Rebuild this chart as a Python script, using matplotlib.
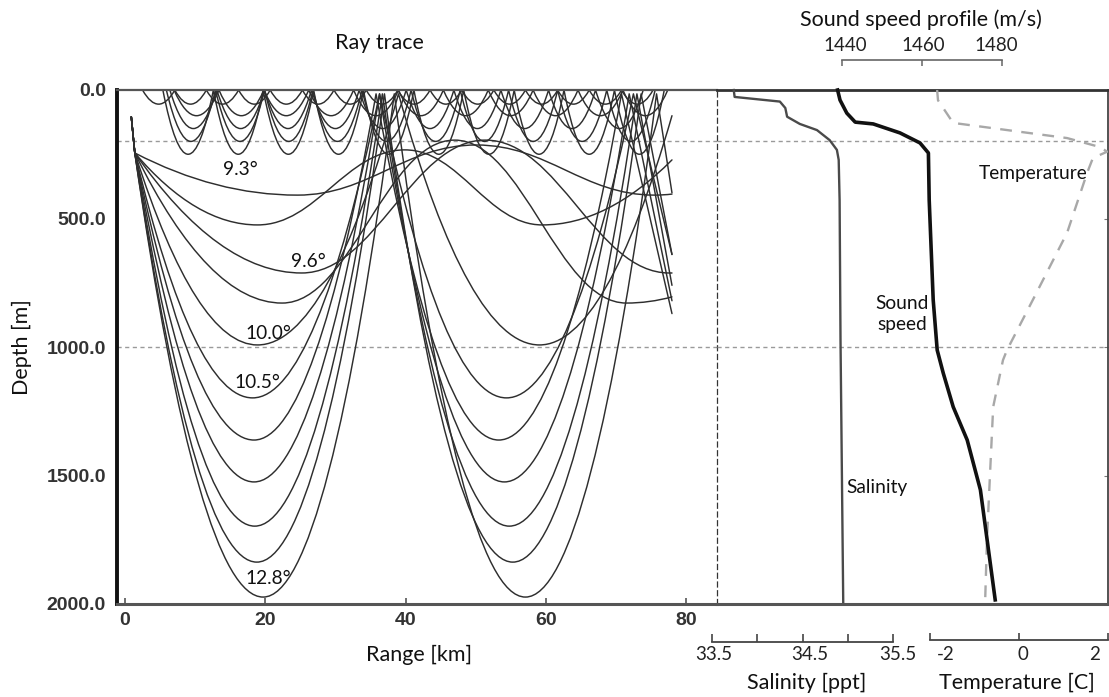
import matplotlib
matplotlib.use("Agg")
import matplotlib.pyplot as plt
from matplotlib.path import Path
from matplotlib.patches import PathPatch
from matplotlib.transforms import ScaledTranslation

plt.rcParams['font.family'] = ['Lato', 'DejaVu Sans']

# ---------------- data ----------------
range_ticks = [0, 20, 40, 60, 80]
depth_ticks = [0, 500, 1000, 1500, 2000]
sal_ticks = [33.5, 34.0, 34.5, 35.0, 35.5]
sal_ticklabels = ["33.5", "", "34.5", "", "35.5"]
temp_ticks = [-2, 0, 2]
ss_ticks = [1440, 1460, 1480]
ref_depths = [200, 1000]

sal_depth = [0, 27, 45, 70, 104, 132, 156, 195, 233, 272, 428, 973, 1992]
sal_value = [33.74, 33.75, 34.25, 34.31, 34.33, 34.47, 34.66, 34.80, 34.88, 34.90, 34.91, 34.92, 34.95]

ss_depth = [0, 39, 90, 125, 132, 167, 206, 245, 428, 817, 1012, 1101, 1233, 1362, 1556, 1984]
ss_value = [1438.9, 1439.5, 1441.2, 1443.3, 1447.8, 1454.5, 1459.5, 1461.6, 1461.8,
            1462.8, 1463.8, 1465.3, 1467.8, 1471.3, 1474.6, 1478.3]

temp_depth = [0, 40, 128, 187, 222, 240, 265, 323, 556, 817, 1012, 1051, 1233, 1490, 1751, 1984]
temp_value = [-1.84, -1.82, -1.48, 1.08, 1.82, 1.98, 1.66, 1.53, 1.08, 0.31, -0.27, -0.36,
              -0.58, -0.65, -0.72, -0.76]

# ray trace key points (range in km, depth in m)
source_range = [0.9, 1.4]
source_depth = [105, 245]
surface_bounce_depth = 15
trace_end_range = 78.0

deep_bottom = [992, 1198, 1362, 1525, 1697, 1837, 1973]
deep_b1_range = [18.9, 18.2, 18.4, 18.4, 18.5, 18.8, 19.7]
deep_top1_range = [39.0, 36.3, 35.8, 36.3, 36.7, 37.0, 38.4]
deep_b2_range = [59.1, 54.4, 53.3, 54.1, 54.8, 55.3, 57.1]
deep_top2_range = [79.2, 72.5, 70.8, 71.9, 73.0, 73.6, 75.8]
deep_end_depth = [100, 640, 870, 820, 760, 640, 400]

shallow_bottom = [409, 525, 712, 829]
shallow_b1_range = [24.6, 18.9, 25.2, 22.4]
shallow_top_range = [50.1, 39.9, 51.4, 47.0]
shallow_top_depth = [214, 233, 195, 195]
shallow_b2_range = [75.5, 59.5, 77.6, 71.5]
shallow_end_depth = [405, 272, 712, 805]

duct_bottom = [250, 200, 150, 100, 55]
duct1_cusps = [5.4, 12.6, 19.7, 26.9, 34.0, 41.2, 48.3, 55.5, 62.6, 69.8, 76.9]
duct2_cusps = [5.9, 12.9, 19.9, 26.8, 33.8, 40.8, 47.8, 54.7, 61.7, 68.7, 75.6]
duct3_cusps = [6.4, 13.1, 19.9, 26.6, 33.4, 40.1, 46.9, 53.6, 60.4, 67.1, 73.9]
duct4_cusps = [7.0, 13.4, 19.8, 26.2, 32.6, 39.0, 45.4, 51.8, 58.2, 64.6, 71.0, 77.4]
duct5_cusps = [2.5, 7.1, 11.6, 16.2, 20.7, 25.3, 29.8, 34.4, 38.9, 43.5, 48.0, 52.6,
               57.1, 61.7, 66.2, 70.8, 75.3]

angle_labels = ["9.3°", "9.6°", "10.0°", "10.5°", "12.8°"]
angle_label_range = [16.4, 26.1, 20.4, 18.9, 20.4]
angle_label_depth = [311, 669, 946, 1140, 1899]

# ---------------- layout helpers ----------------
W, H = 1109, 697
fig = plt.figure(figsize=(W / 100, H / 100), dpi=100)


def box(x0, x1, y0, y1):
    return [x0 / W, 1 - y1 / H, (x1 - x0) / W, (y1 - y0) / H]


def shift_labels(labels, offsets_px):
    for lab, off in zip(labels, offsets_px):
        lab.set_transform(lab.get_transform() + ScaledTranslation(off / 100, 0, fig.dpi_scale_trans))


def ray_path(xs, ys, kinds):
    verts = [(xs[0], ys[0])]
    codes = [Path.MOVETO]
    for i in range(len(xs) - 1):
        xa, ya, xb, yb = xs[i], ys[i], xs[i + 1], ys[i + 1]
        ka, kb = kinds[i], kinds[i + 1]
        dx = xb - xa
        if ka == 'v' and kb == 'v':
            c1 = (xa + 0.4 * dx, ya)
            c2 = (xb - 0.4 * dx, yb)
        elif ka == 'c' and kb == 'v':
            q = (xa + 0.5 * dx, yb)
            c1 = (xa + 2 / 3 * (q[0] - xa), ya + 2 / 3 * (q[1] - ya))
            c2 = (xb + 2 / 3 * (q[0] - xb), yb + 2 / 3 * (q[1] - yb))
        elif ka == 'v' and kb == 'c':
            q = (xa + 0.5 * dx, ya)
            c1 = (xa + 2 / 3 * (q[0] - xa), ya + 2 / 3 * (q[1] - ya))
            c2 = (xb + 2 / 3 * (q[0] - xb), yb + 2 / 3 * (q[1] - yb))
        else:
            c1 = (xa + dx / 3, ya + (yb - ya) / 3)
            c2 = (xa + 2 * dx / 3, ya + 2 * (yb - ya) / 3)
        verts += [c1, c2, (xb, yb)]
        codes += [Path.CURVE4] * 3
    return Path(verts, codes)


RAY_COLOR = '#2e2e2e'
RAY_LW = 1.05
LABEL_FS = 15.5
NOTE_FS = 13.8
TICK_FS = 13.5

# ---------------- ray trace axes ----------------
ax = fig.add_axes(box(117, 717, 90, 604))
ax.set_xlim((117 - 125) / 7.0125, (717 - 125) / 7.0125)
ax.set_ylim(2000, 0)
ax.set_autoscale_on(False)


def add_ray(xs, ys, kinds):
    p = PathPatch(ray_path(xs, ys, kinds), fill=False, edgecolor=RAY_COLOR,
                  lw=RAY_LW, joinstyle='round', capstyle='round')
    ax.add_patch(p)


for i in range(len(deep_bottom)):
    xs = source_range + [deep_b1_range[i], deep_top1_range[i], deep_b2_range[i]]
    ys = source_depth + [deep_bottom[i], surface_bounce_depth, deep_bottom[i]]
    kinds = 'ccvcv'
    if deep_top2_range[i] < trace_end_range:
        xs += [deep_top2_range[i], trace_end_range]
        ys += [surface_bounce_depth, deep_end_depth[i]]
        kinds += 'cc'
    else:
        xs += [trace_end_range]
        ys += [deep_end_depth[i]]
        kinds += 'c'
    add_ray(xs, ys, kinds)

for i in range(len(shallow_bottom)):
    xs = source_range + [shallow_b1_range[i], shallow_top_range[i], shallow_b2_range[i], trace_end_range]
    ys = source_depth + [shallow_bottom[i], shallow_top_depth[i], shallow_bottom[i], shallow_end_depth[i]]
    add_ray(xs, ys, 'ccvvvc')

for cusps, bot in zip([duct1_cusps, duct2_cusps, duct3_cusps, duct4_cusps, duct5_cusps], duct_bottom):
    xs, ys, kinds = [], [], ''
    for j in range(len(cusps) - 1):
        xs += [cusps[j], (cusps[j] + cusps[j + 1]) / 2]
        ys += [0, bot]
        kinds += 'cv'
    xs.append(cusps[-1])
    ys.append(0)
    kinds += 'c'
    add_ray(xs, ys, kinds)

for d in ref_depths:
    ax.axhline(d, color='#9a9a9a', lw=1.0, ls=(0, (3, 2.5)), zorder=0.5)

for lab, r, d in zip(angle_labels, angle_label_range, angle_label_depth):
    ax.text(r, d, lab, ha='center', va='center', fontsize=NOTE_FS, color='#111')

ax.spines['left'].set_linewidth(2.8)
ax.spines['left'].set_color('#111')
ax.spines['top'].set_linewidth(1.6)
ax.spines['top'].set_color('#555')
ax.spines['bottom'].set_linewidth(2.2)
ax.spines['bottom'].set_color('#555')
ax.spines['right'].set_linewidth(0.9)
ax.spines['right'].set_color('#333')
ax.spines['right'].set_linestyle((0, (4, 3)))

ax.set_xticks(range_ticks)
ax.set_xticklabels([str(v) for v in range_ticks])
ax.set_yticks(depth_ticks)
ax.set_yticklabels([f"{v:.1f}" for v in depth_ticks])
ax.tick_params(axis='x', direction='in', length=4, width=1.2, color='#555', pad=6,
               labelsize=14, labelcolor='#333')
ax.tick_params(axis='y', length=0, pad=8, labelsize=14, labelcolor='#333')
for t in ax.get_xticklabels() + ax.get_yticklabels():
    t.set_fontfamily(['Liberation Sans', 'DejaVu Sans'])
    t.set_fontweight('bold')

fig.text(379 / W, 1 - 43 / H, "Ray trace", ha='center', va='center', fontsize=LABEL_FS, color='#111')
fig.text(419 / W, 1 - 655 / H, "Range [km]", ha='center', va='center', fontsize=LABEL_FS, color='#111')
fig.text(22 / W, 1 - 347 / H, "Depth [m]", ha='center', va='center', rotation=90,
         fontsize=LABEL_FS, color='#111')

# ---------------- profile panel ----------------
axp = fig.add_axes(box(717, 1108, 90, 604))
axp.set_xlim(0, 1)
axp.set_ylim(2000, 0)
axp.patch.set_alpha(0)
axp.spines['left'].set_visible(False)
axp.spines['top'].set_linewidth(2.0)
axp.spines['top'].set_color('#333')
axp.spines['bottom'].set_linewidth(2.2)
axp.spines['bottom'].set_color('#555')
axp.spines['right'].set_linewidth(1.3)
axp.spines['right'].set_color('#444')
axp.set_xticks([])
axp.set_yticks([500, 1000, 1500])
axp.yaxis.tick_right()
axp.tick_params(axis='y', direction='in', length=3, color='#777', labelright=False)
for d in ref_depths:
    axp.axhline(d, color='#9a9a9a', lw=1.0, ls=(0, (3, 2.5)), zorder=0.5)

PT = 72 / 100  # points per pixel

# salinity
axs = fig.add_axes(box(712, 893, 90, 604))
axs.set_xlim(sal_ticks[0], sal_ticks[-1])
axs.set_ylim(2000, 0)
axs.patch.set_alpha(0)
for s in ['left', 'right', 'top']:
    axs.spines[s].set_visible(False)
axs.spines['bottom'].set_position(('outward', 38 * PT))
axs.spines['bottom'].set_color('#444')
axs.spines['bottom'].set_linewidth(1.3)
axs.set_yticks([])
axs.set_xticks(sal_ticks)
axs.set_xticklabels(sal_ticklabels)
axs.tick_params(axis='x', direction='in', length=6, width=1.2,
                color='#444', pad=3, labelsize=TICK_FS, labelcolor='#222')
shift_labels(axs.get_xticklabels(), [2, 0, 7, 0, 5])
axs.plot(sal_value, sal_depth, color='#4a4a4a', lw=1.7, clip_on=False)

# temperature
axt = fig.add_axes(box(930, 1108, 90, 604))
axt.set_xlim(temp_ticks[0], temp_ticks[-1])
axt.set_ylim(2000, 0)
axt.patch.set_alpha(0)
for s in ['left', 'right', 'top']:
    axt.spines[s].set_visible(False)
axt.spines['bottom'].set_position(('outward', 36 * PT))
axt.spines['bottom'].set_color('#444')
axt.spines['bottom'].set_linewidth(1.3)
axt.set_yticks([])
axt.set_xticks(temp_ticks)
axt.set_xticklabels([str(v) for v in temp_ticks])
axt.tick_params(axis='x', direction='in', length=5, width=1.2, color='#444', pad=4,
                labelsize=TICK_FS, labelcolor='#222')
shift_labels(axt.get_xticklabels(), [16, 4, -13])
axt.plot(temp_value, temp_depth, color='#a8a8a8', lw=1.7, ls=(0, (5, 4)))

# sound speed
axc = fig.add_axes(box(842, 1002, 90, 604))
axc.set_xlim(ss_ticks[0], ss_ticks[-1])
axc.set_ylim(2000, 0)
axc.patch.set_alpha(0)
for s in ['left', 'right', 'bottom']:
    axc.spines[s].set_visible(False)
axc.spines['top'].set_position(('outward', 30 * PT))
axc.spines['top'].set_color('#666')
axc.spines['top'].set_linewidth(1.2)
axc.set_yticks([])
axc.xaxis.tick_top()
axc.set_xticks(ss_ticks)
axc.set_xticklabels([str(v) for v in ss_ticks])
axc.tick_params(axis='x', direction='in', length=4, width=1.1, color='#666', pad=4,
                labelsize=TICK_FS, labelcolor='#222')
shift_labels(axc.get_xticklabels(), [3, 1, -6])
axc.plot(ss_value, ss_depth, color='#111', lw=2.6, clip_on=False, solid_joinstyle='round')

fig.text(921 / W, 1 - 20 / H, "Sound speed profile (m/s)", ha='center', va='center',
         fontsize=LABEL_FS, color='#111')
fig.text(807 / W, 1 - 683 / H, "Salinity [ppt]", ha='center', va='center', fontsize=LABEL_FS, color='#111')
fig.text(1017 / W, 1 - 683 / H, "Temperature [C]", ha='center', va='center', fontsize=LABEL_FS,
         color='#111')
fig.text(1033 / W, 1 - 174 / H, "Temperature", ha='center', va='center', fontsize=NOTE_FS, color='#111')
fig.text(902 / W, 1 - 314 / H, "Sound\nspeed", ha='center', va='center', fontsize=NOTE_FS,
         color='#111', linespacing=1.25)
fig.text(877 / W, 1 - 487 / H, "Salinity", ha='center', va='center', fontsize=NOTE_FS, color='#111')

fig.savefig("out.png", dpi=100)
